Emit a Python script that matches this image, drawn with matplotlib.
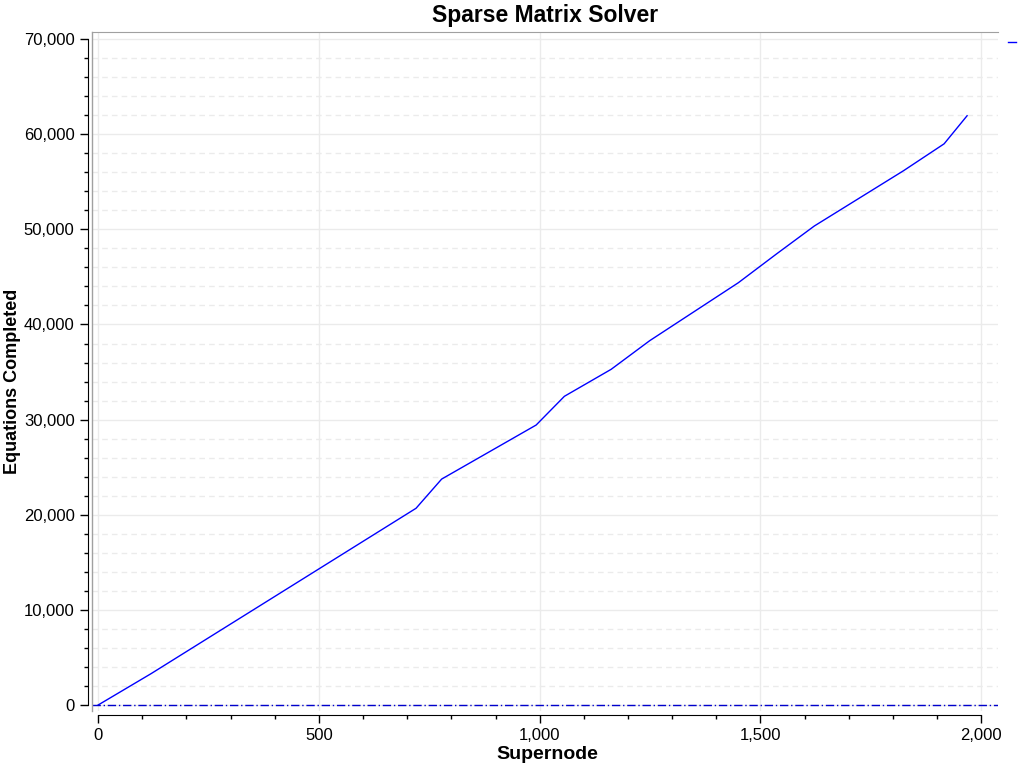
import matplotlib
matplotlib.use("Agg")
import matplotlib.pyplot as plt
from matplotlib.ticker import MultipleLocator, FuncFormatter

plt.rcParams['font.family'] = ['Liberation Sans', 'DejaVu Sans']

# data
supernode = [0, 120, 720, 778, 992, 1056, 1162, 1249, 1450, 1536, 1622, 1824, 1916, 1968]
equations = [0, 3300, 20680, 23750, 29430, 32450, 35290, 38290, 44390, 47400, 50350, 56160, 58990, 61940]

fig = plt.figure(figsize=(10.24, 7.68), dpi=100)
ax = fig.add_axes([0.0898, 0.0742, 0.8848, 0.8841])

line, = ax.plot(supernode, equations, color='#0000ff', lw=1, label=' ')
ax.axhline(0, color='#0000cc', lw=1, linestyle=(0, (6, 2, 1, 2)))

ax.set_xlim(-14, 2038)
ax.set_ylim(-630, 70740)

ax.xaxis.set_major_locator(MultipleLocator(500))
ax.xaxis.set_minor_locator(MultipleLocator(100))
ax.yaxis.set_major_locator(MultipleLocator(10000))
ax.yaxis.set_minor_locator(MultipleLocator(2000))
fmt = FuncFormatter(lambda v, p: f"{v:,.0f}")
ax.xaxis.set_major_formatter(fmt)
ax.yaxis.set_major_formatter(fmt)

ax.grid(which='major', color='#ebebeb', lw=1, linestyle='-')
ax.grid(which='minor', axis='y', color='#ebebeb', lw=1, linestyle=(0, (4, 3)))
ax.set_axisbelow(True)

ax.spines['right'].set_visible(False)
ax.spines['top'].set_color('#a0a0a0')
ax.spines['left'].set_position(('outward', 3))
ax.spines['bottom'].set_position(('outward', 3))
ax.spines['left'].set_bounds(0, 70000)
ax.spines['bottom'].set_bounds(0, 2000)
ax.plot([0, 0], [0, 1], transform=ax.transAxes, color='#a0a0a0', lw=1, clip_on=False)

ax.tick_params(which='major', direction='out', length=6, width=1, labelsize=12, colors='black')
ax.tick_params(which='minor', direction='out', length=3, width=1)

ax.set_title('Sparse Matrix Solver', fontsize=16.5, fontweight='bold', pad=7)
ax.set_xlabel('Supernode', fontsize=14, fontweight='bold')
ax.set_ylabel('Equations Completed', fontsize=13, fontweight='bold')
ax.xaxis.set_label_coords(0.503, -0.051)
ax.yaxis.set_label_coords(-0.078, 0.485)

ax.legend(handles=[line], loc='upper left', bbox_to_anchor=(1.011, 0.994), frameon=False,
          handlelength=0.5, fontsize=12, borderaxespad=0.0, borderpad=0.0)

fig.savefig('out.png', dpi=100)
